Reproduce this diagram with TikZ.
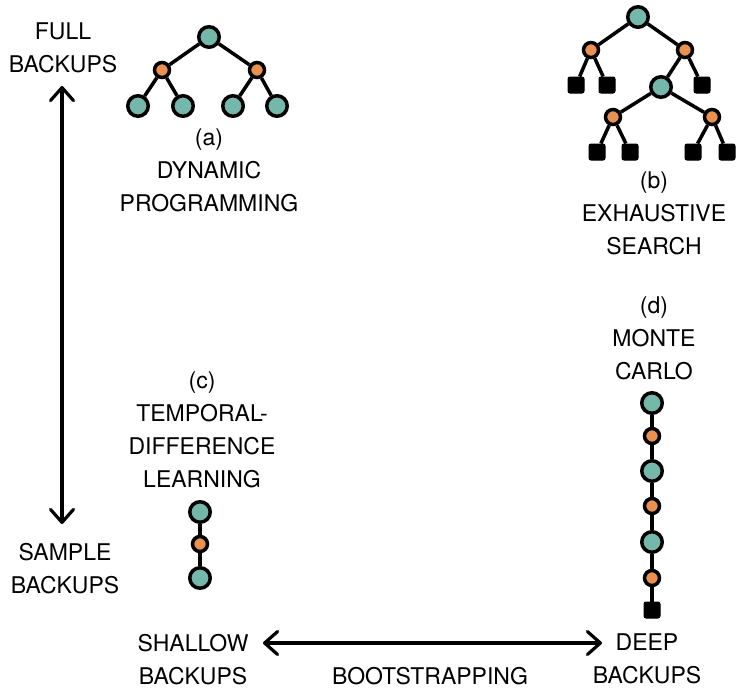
\documentclass[tikz,border=0pt]{standalone}
\usepackage{fontspec}
\setmainfont{TeX Gyre Heros}
\usetikzlibrary{arrows.meta}
\definecolor{tealst}{RGB}{115,184,170}
\definecolor{orngact}{RGB}{234,145,82}
\begin{document}
\begin{tikzpicture}[x=1pt,y=-1pt,
  st/.style={circle,draw=black,line width=3.5pt,fill=tealst,minimum size=20.5pt,inner sep=0pt},
  act/.style={circle,draw=black,line width=3.5pt,fill=orngact,minimum size=15pt,inner sep=0pt},
  term/.style={rectangle,draw=black,line width=1pt,fill=black,minimum size=16pt,inner sep=0pt,rounded corners=2pt},
  edgeln/.style={line width=3.5pt},
  lbl/.style={align=center,inner sep=0pt,anchor=north,font=\fontsize{23}{33}\selectfont},
  dblarrow/.style={line width=3.2pt,{Straight Barb[length=13pt,width=23pt,round]}-{Straight Barb[length=13pt,width=23pt,round]}}
]
\useasboundingbox (0,0) rectangle (744,696);

% (a) dynamic programming
\node[st]  (a0) at (209,37) {};
\node[act] (a1) at (162,70) {};
\node[act] (a2) at (257,70) {};
\node[st]  (a3) at (138,106) {};
\node[st]  (a4) at (183,106) {};
\node[st]  (a5) at (233,106) {};
\node[st]  (a6) at (277,106) {};
\draw[edgeln] (a0) -- (a1) (a0) -- (a2) (a1) -- (a3) (a1) -- (a4) (a2) -- (a5) (a2) -- (a6);
\node[lbl] (alab) at (209,129) {(a)\\DYNAMIC\\PROGRAMMING};

% (b) exhaustive search
\node[st]   (b0) at (638,17) {};
\node[act]  (b1) at (591,50) {};
\node[act]  (b2) at (685,50) {};
\node[term] (b3) at (576,85) {};
\node[term] (b4) at (607,85) {};
\node[st]   (b5) at (661,87) {};
\node[term] (b6) at (702,85) {};
\node[act]  (b7) at (613,117) {};
\node[act]  (b8) at (712,117) {};
\node[term] (b9) at (597,152) {};
\node[term] (b10) at (630,152) {};
\node[term] (b11) at (693,152) {};
\node[term] (b12) at (727,152) {};
\draw[edgeln] (b0) -- (b1) (b0) -- (b2) (b1) -- (b3) (b1) -- (b4) (b2) -- (b5) (b2) -- (b6)
  (b5) -- (b7) (b5) -- (b8) (b7) -- (b9) (b7) -- (b10) (b8) -- (b11) (b8) -- (b12);
\node[lbl] (blab) at (654,172) {(b)\\EXHAUSTIVE\\SEARCH};

% (c) temporal-difference learning
\node[lbl] (clab) at (202,372) {(c)\\TEMPORAL-\\DIFFERENCE\\LEARNING};
\node[st]  (c0) at (200,512) {};
\node[act] (c1) at (200,544) {};
\node[st]  (c2) at (200,578) {};
\draw[edgeln] (c0) -- (c1) (c1) -- (c2);

% (d) monte carlo
\node[lbl] (dlab) at (654,297) {(d)\\MONTE\\CARLO};
\node[st]   (d0) at (652,403) {};
\node[act]  (d1) at (652,436) {};
\node[st]   (d2) at (652,471) {};
\node[act]  (d3) at (652,506) {};
\node[st]   (d4) at (652,542) {};
\node[act]  (d5) at (652,578) {};
\node[term] (d6) at (652,610) {};
\draw[edgeln] (d0) -- (d1) (d1) -- (d2) (d2) -- (d3) (d3) -- (d4) (d4) -- (d5) (d5) -- (d6);

% axes
\node[lbl] (full) at (63,23) {FULL\\BACKUPS};
\node[lbl] (sample) at (65,543) {SAMPLE\\BACKUPS};
\node[lbl] (shallow) at (193,634) {SHALLOW\\BACKUPS};
\node[lbl] (deep) at (647,634) {DEEP\\BACKUPS};
\node[lbl] (boot) at (430,667) {BOOTSTRAPPING};
\coordinate (vtop) at (62,86);
\coordinate (vbot) at (62,524);
\coordinate (hleft) at (263,643);
\coordinate (hright) at (602,643);
\draw[dblarrow] (vtop) -- (vbot);
\draw[dblarrow] (hleft) -- (hright);
\end{tikzpicture}
\end{document}
